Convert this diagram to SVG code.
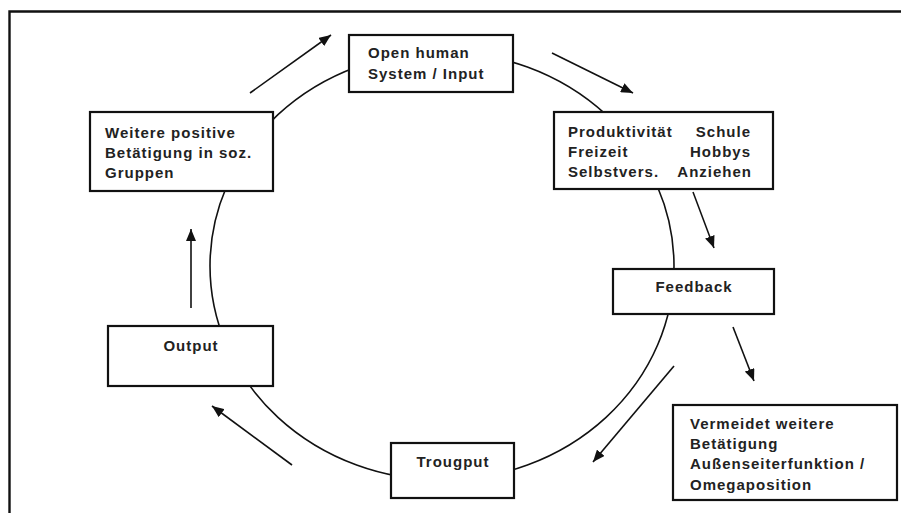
<svg xmlns="http://www.w3.org/2000/svg" width="901" height="513" viewBox="0 0 901 513">
<style>
.box{fill:#fff;stroke:#111;stroke-width:2.2}
.t{font-family:"Liberation Sans",Arial,sans-serif;font-weight:bold;font-size:15px;letter-spacing:1px;fill:#222}
.c{text-anchor:middle}
.e{text-anchor:end}
.ring{fill:none;stroke:#111;stroke-width:1.6}
.arr{fill:none;stroke:#111;stroke-width:1.6;marker-end:url(#ah)}
.frame{fill:none;stroke:#111;stroke-width:2.4}
</style>
<defs>
<marker id="ah" markerUnits="userSpaceOnUse" markerWidth="12" markerHeight="10" refX="12" refY="5" orient="auto">
<path d="M0,0 L12,5 L0,10 z" fill="#111"/>
</marker>
</defs>
<rect width="901" height="513" fill="#fff"/>
<path class="frame" d="M9.5,513 V11.5 H901"/>
<g id="connectors">
<ellipse class="ring" cx="442" cy="266" rx="232" ry="214"/>
<line class="arr" x1="250" y1="93" x2="331" y2="35"/>
<line class="arr" x1="552" y1="53" x2="633" y2="93"/>
<line class="arr" x1="693" y1="192" x2="714" y2="248"/>
<line class="arr" x1="733" y1="327" x2="754" y2="381"/>
<line class="arr" x1="674" y1="366" x2="593" y2="462"/>
<line class="arr" x1="292" y1="465" x2="212" y2="406"/>
<line class="arr" x1="191" y1="308" x2="191" y2="229"/>
</g>
<g id="open-human">
<rect class="box" x="349" y="35" width="164" height="57"/>
<text class="t" x="368" y="58">Open human</text>
<text class="t" x="368" y="79">System / Input</text>
</g>
<g id="produktivitaet">
<rect class="box" x="554" y="112" width="219" height="77"/>
<text class="t" x="568" y="137">Produktivität</text>
<text class="t e" x="751" y="137">Schule</text>
<text class="t" x="568" y="157">Freizeit</text>
<text class="t e" x="751" y="157">Hobbys</text>
<text class="t" x="568" y="177">Selbstvers.</text>
<text class="t e" x="752" y="177">Anziehen</text>
</g>
<g id="feedback">
<rect class="box" x="613" y="269" width="161" height="45"/>
<text class="t c" x="694" y="292">Feedback</text>
</g>
<g id="vermeidet">
<rect class="box" x="673" y="405" width="224" height="95"/>
<text class="t" x="690" y="429">Vermeidet weitere</text>
<text class="t" x="690" y="449">Betätigung</text>
<text class="t" x="690" y="469">Außenseiterfunktion /</text>
<text class="t" x="690" y="490">Omegaposition</text>
</g>
<g id="trougput">
<rect class="box" x="391" y="443" width="123" height="55"/>
<text class="t c" x="453" y="467">Trougput</text>
</g>
<g id="output">
<rect class="box" x="108" y="326" width="165" height="60"/>
<text class="t c" x="191" y="351">Output</text>
</g>
<g id="weitere">
<rect class="box" x="90" y="112" width="183" height="79"/>
<text class="t" x="105" y="138">Weitere positive</text>
<text class="t" x="105" y="158">Betätigung in soz.</text>
<text class="t" x="105" y="178">Gruppen</text>
</g>
</svg>
